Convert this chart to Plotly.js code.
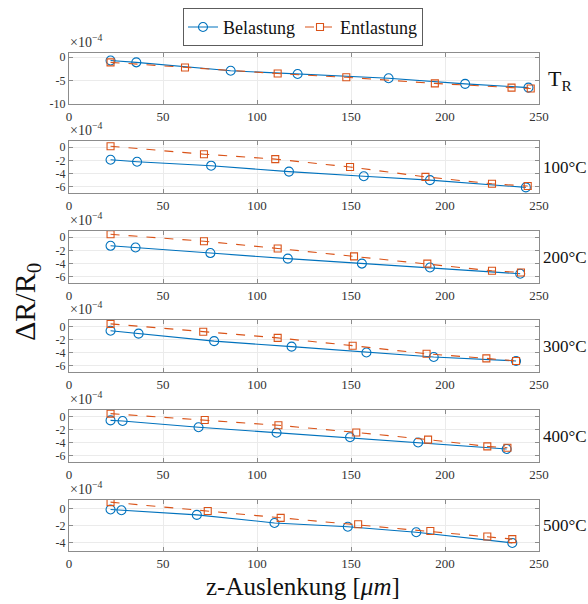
<!DOCTYPE html>
<html>
<head>
<meta charset="utf-8">
<script src="https://cdn.plot.ly/plotly-3.0.1.min.js"></script>
<style>
html,body{margin:0;padding:0;background:#fff}#chart{width:588px;height:604px}
#chart text{font-family:"Liberation Serif","DejaVu Serif",serif !important;}
</style>
</head>
<body>
<div id="chart"></div>
<script>
// Values in units of 1e-4
const panelLabels = ["T<sub>R</sub>", "100°C", "200°C", "300°C", "400°C", "500°C"];
const seriesNames = ["Belastung", "Entlastung"];

const belX_TR = [22.1, 35.8, 86, 121.6, 170, 210.7, 244.4];
const belY_TR = [-0.7, -1.1, -2.9, -3.6, -4.5, -5.7, -6.5];
const entX_TR = [22.1, 61.7, 111, 147.5, 194.6, 235.4, 245.6];
const entY_TR = [-1.1, -2.2, -3.5, -4.3, -5.6, -6.5, -6.7];

const belX_100 = [22.1, 36.2, 75.6, 117, 156.8, 192, 243];
const belY_100 = [-1.9, -2.2, -2.8, -3.7, -4.4, -5.0, -6.1];
const entX_100 = [22.1, 71.8, 109.7, 149.5, 189.6, 225, 244];
const entY_100 = [0.15, -1.05, -1.8, -3.0, -4.5, -5.55, -5.9];

const belX_200 = [22.1, 35.4, 75.2, 116.4, 155.8, 192, 240];
const belY_200 = [-1.3, -1.55, -2.4, -3.25, -4.0, -4.6, -5.55];
const entX_200 = [22.1, 71.8, 111, 151.6, 190.6, 225, 240.4];
const entY_200 = [0.45, -0.6, -1.7, -2.9, -4.0, -5.1, -5.35];

const belX_300 = [22.1, 37, 77.2, 118.4, 158.2, 194, 237.8];
const belY_300 = [-0.65, -1.1, -2.25, -3.1, -4.0, -4.7, -5.3];
const entX_300 = [22.1, 71.4, 111, 150.9, 190.2, 222, 237.8];
const entY_300 = [0.4, -0.8, -1.75, -2.95, -4.2, -4.9, -5.3];

const belX_400 = [22.1, 28.5, 68.9, 110.4, 149.5, 185.7, 232.8];
const belY_400 = [-0.6, -0.7, -1.65, -2.5, -3.2, -4.0, -5.0];
const entX_400 = [22.1, 72.2, 111.4, 152.8, 191, 222.5, 233.2];
const entY_400 = [0.45, -0.55, -1.35, -2.45, -3.55, -4.6, -4.8];

const belX_500 = [22.1, 27.9, 68, 109.3, 148.3, 184.7, 235.8];
const belY_500 = [-0.12, -0.2, -0.75, -1.7, -2.15, -2.8, -4.05];
const entX_500 = [22.1, 73.8, 112.6, 153.8, 192.2, 222.5, 235.8];
const entY_500 = [0.75, -0.3, -1.1, -1.85, -2.65, -3.3, -3.6];

const xTicks = [0, 50, 100, 150, 200, 250];
const yTicks_TR = [0, -5, -10];
const yTicks_mid = [0, -2, -4, -6];
const yTicks_500 = [0, -2, -4];
const yRanges = [[-10, 1], [-7, 1], [-7, 1], [-7, 1], [-7, 1], [-5, 1]];

const panels = [
  [belX_TR, belY_TR, entX_TR, entY_TR, yTicks_TR],
  [belX_100, belY_100, entX_100, entY_100, yTicks_mid],
  [belX_200, belY_200, entX_200, entY_200, yTicks_mid],
  [belX_300, belY_300, entX_300, entY_300, yTicks_mid],
  [belX_400, belY_400, entX_400, entY_400, yTicks_mid],
  [belX_500, belY_500, entX_500, entY_500, yTicks_500]
];

const W = 588, H = 604;
const tops = [52.5, 140.7, 230.7, 320, 410, 500];
const bottoms = [104, 193.3, 283.3, 372, 462, 551];
const xDom = [69 / W, 539 / W];
const blue = '#0072BD', orange = '#D95319';
const serif = '"Liberation Serif", "DejaVu Serif", serif';

const data = [];
const layout = {
  width: W, height: H,
  font: {family: serif, size: 12, color: '#333'},
  margin: {l: 0, r: 0, t: 0, b: 0},
  paper_bgcolor: '#fff', plot_bgcolor: '#fff',
  showlegend: true,
  legend: {
    orientation: 'h', x: 303 / W, xanchor: 'center', y: 1 - 8 / H, yanchor: 'top',
    bordercolor: '#333', borderwidth: 0.8, bgcolor: '#fff',
    font: {family: serif, size: 18, color: '#111'},
    itemwidth: 30, tracegroupgap: 0
  },
  annotations: []
};

panels.forEach((p, i) => {
  const ax = i === 0 ? '' : String(i + 1);
  data.push({
    x: p[0], y: p[1], xaxis: 'x' + ax, yaxis: 'y' + ax,
    type: 'scatter', mode: 'lines+markers', name: seriesNames[0],
    showlegend: i === 0, legendgroup: 'b',
    line: {color: blue, width: 1.1},
    marker: {symbol: 'circle-open', size: 9, color: blue, line: {width: 1.1}}
  });
  data.push({
    x: p[2], y: p[3], xaxis: 'x' + ax, yaxis: 'y' + ax,
    type: 'scatter', mode: 'lines+markers', name: seriesNames[1],
    showlegend: i === 0, legendgroup: 'e',
    line: {color: orange, width: 1.1, dash: 'dash'},
    marker: {symbol: 'square-open', size: 7, color: orange, line: {width: 1.1}}
  });
  const yd = [1 - bottoms[i] / H, 1 - tops[i] / H];
  layout['xaxis' + ax] = {
    domain: xDom, anchor: 'y' + ax, range: [0, 250],
    tickvals: xTicks, ticktext: xTicks.map(String),
    showgrid: true, gridcolor: '#ebebeb', gridwidth: 1,
    zeroline: false, showline: true, linecolor: '#8c8c8c', linewidth: 1,
    mirror: 'ticks', ticks: 'inside', ticklen: 4, tickcolor: '#8c8c8c',
    tickfont: {family: serif, size: 13, color: '#333'}, fixedrange: true
  };
  layout['yaxis' + ax] = {
    domain: yd, anchor: 'x' + ax, range: yRanges[i],
    tickvals: p[4], ticktext: p[4].map(v => String(v)),
    showgrid: true, gridcolor: '#ebebeb', gridwidth: 1,
    zeroline: false, showline: true, linecolor: '#8c8c8c', linewidth: 1,
    mirror: 'ticks', ticks: 'inside', ticklen: 4, tickcolor: '#8c8c8c',
    tickfont: {family: serif, size: 12, color: '#333'}, fixedrange: true
  };
  layout.annotations.push({
    xref: 'paper', yref: 'paper', x: 68 / W, y: 1 - (tops[i] - 1) / H,
    xanchor: 'left', yanchor: 'bottom', showarrow: false,
    text: '×10<sup>−4</sup>', font: {family: serif, size: 14, color: '#333'}
  });
  layout.annotations.push({
    xref: 'paper', yref: 'paper', x: (i === 0 ? 546 : 541) / W,
    y: 1 - ((tops[i] + bottoms[i]) / 2 + (i === 0 ? 2 : 0)) / H,
    xanchor: 'left', yanchor: 'middle', showarrow: false,
    text: panelLabels[i], font: {family: serif, size: i === 0 ? 22 : 17, color: '#111'}
  });
});

layout.annotations.push({
  xref: 'paper', yref: 'paper', x: 303 / W, y: 1 - 586 / H,
  xanchor: 'center', yanchor: 'middle', showarrow: false,
  text: 'z-Auslenkung [<i>μm</i>]', font: {family: serif, size: 25, color: '#111'}
});
layout.annotations.push({
  xref: 'paper', yref: 'paper', x: 27 / W, y: 1 - 302 / H,
  xanchor: 'center', yanchor: 'middle', showarrow: false, textangle: -90,
  text: 'ΔR/R<sub>0</sub>', font: {family: serif, size: 30, color: '#111'}
});

Plotly.newPlot('chart', data, layout, {displayModeBar: false, staticPlot: true});
</script>
</body>
</html>
